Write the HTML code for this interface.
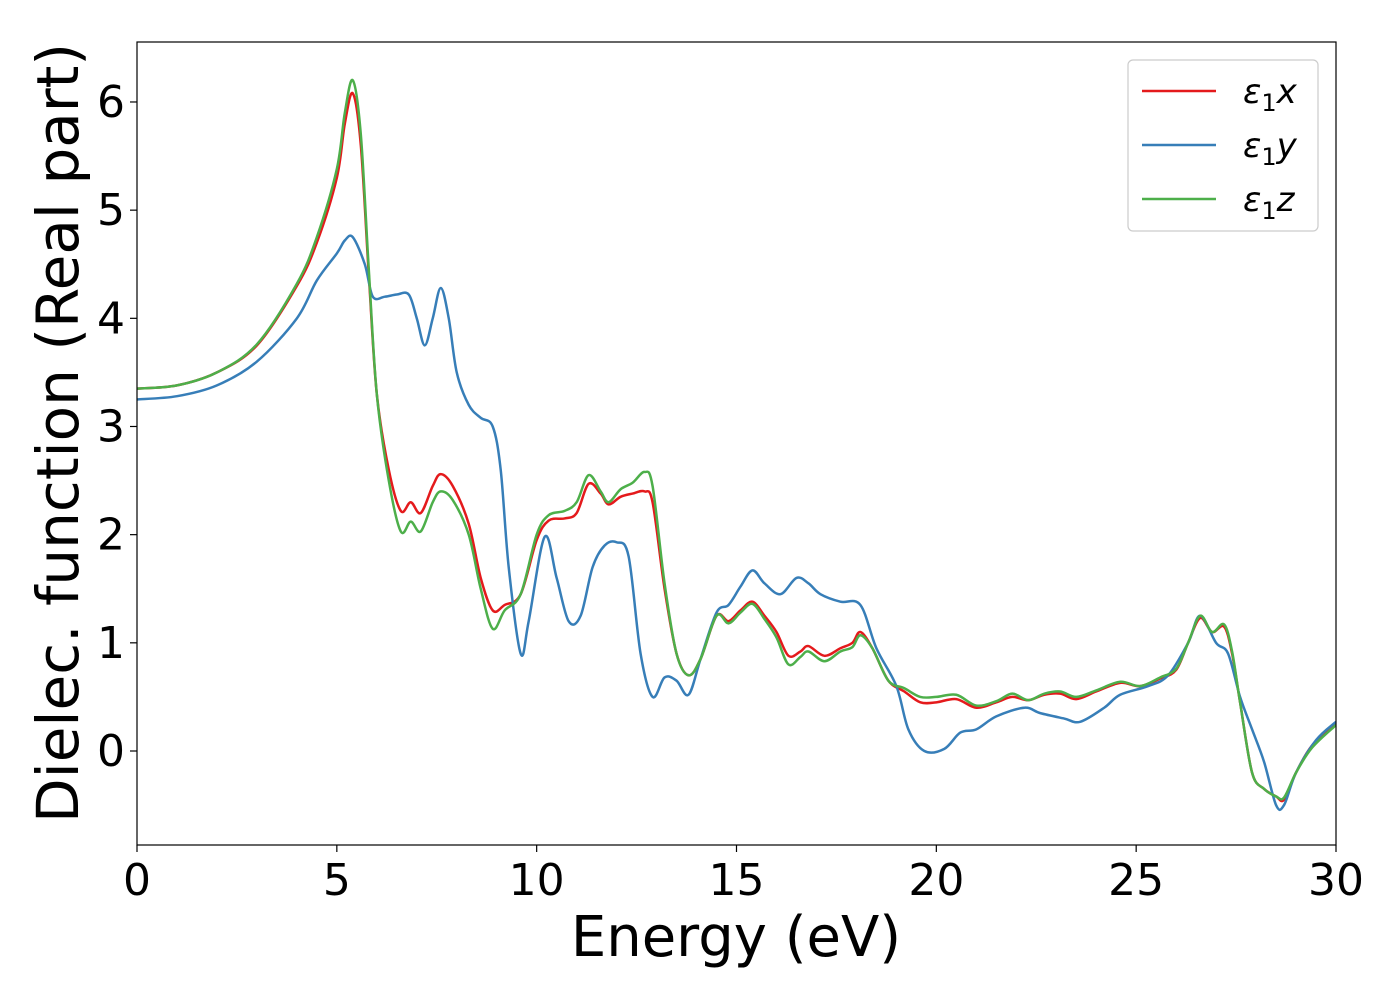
<!DOCTYPE html>
<html><head><meta charset="utf-8"><style>
body{margin:0;background:#fff}
svg{font-family:"DejaVu Sans","Liberation Sans",sans-serif}
</style></head><body>
<svg id="chart" width="1400" height="1000"></svg>
<script>
const xTicks=[0,5,10,15,20,25,30];
const yTicks=[0,1,2,3,4,5,6];
const eX=[0,1,2,3,4,4.5,5,5.2,5.4,5.6,5.8,6.0,6.3,6.6,6.85,7.1,7.4,7.6,7.9,8.3,8.6,8.9,9.2,9.6,10.0,10.3,10.7,11.0,11.3,11.6,11.8,12.1,12.4,12.7,12.9,13.2,13.5,13.8,14.1,14.5,14.8,15.1,15.4,15.7,16.0,16.3,16.6,16.8,17.2,17.6,17.9,18.1,18.4,18.8,19.2,19.6,20.0,20.5,21.0,21.5,21.9,22.3,22.7,23.1,23.5,24.0,24.6,25.1,25.6,26.0,26.3,26.6,26.9,27.2,27.4,27.6,27.9,28.2,28.5,28.7,29.0,29.4,30];
const epsX=[3.35,3.38,3.5,3.75,4.3,4.7,5.3,5.8,6.08,5.6,4.4,3.3,2.6,2.22,2.3,2.2,2.45,2.56,2.45,2.1,1.6,1.3,1.35,1.45,1.95,2.13,2.15,2.2,2.47,2.38,2.28,2.35,2.38,2.4,2.3,1.5,0.9,0.7,0.85,1.25,1.2,1.3,1.38,1.25,1.1,0.88,0.92,0.97,0.88,0.95,1.0,1.1,0.95,0.65,0.55,0.45,0.45,0.48,0.4,0.45,0.5,0.47,0.52,0.53,0.48,0.55,0.63,0.6,0.67,0.75,1.0,1.23,1.1,1.15,0.9,0.45,-0.2,-0.35,-0.42,-0.45,-0.2,0.05,0.25];
const epsZ=[3.35,3.38,3.5,3.76,4.32,4.75,5.38,5.9,6.2,5.7,4.45,3.3,2.5,2.03,2.12,2.03,2.3,2.4,2.32,2.0,1.5,1.13,1.3,1.45,2.0,2.18,2.22,2.3,2.55,2.4,2.3,2.42,2.48,2.58,2.45,1.55,0.9,0.7,0.85,1.25,1.18,1.28,1.36,1.22,1.05,0.8,0.87,0.92,0.83,0.92,0.96,1.07,0.95,0.65,0.58,0.5,0.5,0.52,0.42,0.46,0.53,0.47,0.53,0.55,0.5,0.56,0.64,0.6,0.68,0.76,1.0,1.25,1.1,1.17,0.92,0.45,-0.2,-0.35,-0.42,-0.43,-0.2,0.03,0.24];
const eY=[0,1,2,3,4,4.5,5.0,5.2,5.4,5.7,5.9,6.2,6.5,6.8,7.0,7.2,7.4,7.6,7.8,8.0,8.3,8.6,8.9,9.1,9.3,9.6,9.8,10.2,10.5,10.8,11.1,11.4,11.7,12.0,12.3,12.6,12.9,13.2,13.5,13.8,14.1,14.5,14.8,15.1,15.4,15.7,16.1,16.5,16.8,17.1,17.6,18.1,18.5,19.0,19.3,19.7,20.2,20.6,21.0,21.5,22.2,22.6,23.2,23.6,24.2,24.6,25.3,25.8,26.3,26.6,27.0,27.3,27.6,27.9,28.2,28.5,28.7,29.0,29.5,30];
const epsY=[3.25,3.28,3.38,3.6,4.0,4.35,4.6,4.72,4.75,4.5,4.2,4.2,4.22,4.22,4.0,3.75,4.0,4.28,4.0,3.5,3.2,3.08,3.0,2.6,1.7,0.9,1.2,1.98,1.6,1.2,1.25,1.7,1.9,1.93,1.8,0.9,0.5,0.68,0.65,0.52,0.85,1.28,1.35,1.52,1.67,1.55,1.45,1.6,1.55,1.45,1.38,1.35,0.95,0.6,0.2,0.0,0.02,0.17,0.2,0.32,0.4,0.35,0.3,0.27,0.4,0.52,0.6,0.7,1.0,1.25,1.0,0.9,0.5,0.2,-0.1,-0.5,-0.5,-0.2,0.1,0.27];

const L=137,R=1336,T=42,B=845;
const xs=v=>L+(v/30)*(R-L);
const ys=v=>751-v*108.17;
const NS="http://www.w3.org/2000/svg";
const svg=document.getElementById('chart');
function mk(t,a,p){const e=document.createElementNS(NS,t);for(const k in a)e.setAttribute(k,a[k]);(p||svg).appendChild(e);return e;}
function path(xa,va){
  const p=xa.map((x,i)=>[xs(x),ys(va[i])]);
  let d=`M${p[0][0]},${p[0][1]}`;
  for(let i=0;i<p.length-1;i++){
    const p0=p[Math.max(0,i-1)],p1=p[i],p2=p[i+1],p3=p[Math.min(p.length-1,i+2)];
    const c1=[p1[0]+(p2[0]-p0[0])/6,p1[1]+(p2[1]-p0[1])/6];
    const c2=[p2[0]-(p3[0]-p1[0])/6,p2[1]-(p3[1]-p1[1])/6];
    d+=`C${c1[0]},${c1[1]} ${c2[0]},${c2[1]} ${p2[0]},${p2[1]}`;
  }
  return d;
}
const series=[[eX,epsX,'#e41a1c','series-eps1-x'],[eY,epsY,'#377eb8','series-eps1-y'],[eX,epsZ,'#4daf4a','series-eps1-z']];
const clip=mk('clipPath',{id:'c'});mk('rect',{x:L,y:T,width:R-L,height:B-T},clip);
series.forEach(s=>{
  const e=mk('path',{d:path(s[0],s[1]),fill:'none',stroke:s[2],'stroke-width':2.5,'clip-path':'url(#c)'});
  
  
});
const fr=mk('rect',{x:L,y:T,width:R-L,height:B-T,fill:'none',stroke:'#000','stroke-width':1.2});

xTicks.forEach(t=>{
  mk('line',{x1:xs(t),x2:xs(t),y1:B,y2:B+7,stroke:'#000','stroke-width':1.2});
  const e=mk('text',{x:xs(t),y:B+50,'font-size':44,'text-anchor':'middle'});e.textContent=t;
  
});
yTicks.forEach(t=>{
  mk('line',{x1:L-7,x2:L,y1:ys(t),y2:ys(t),stroke:'#000','stroke-width':1.2});
  const e=mk('text',{x:L-12,y:ys(t)+15,'font-size':44,'text-anchor':'end'});e.textContent=t;
  
});
let e=mk('text',{x:736,y:956,'font-size':56,'text-anchor':'middle'});e.textContent='Energy (eV)';

e=mk('text',{x:0,y:0,'font-size':58,'text-anchor':'middle',transform:'translate(78,433) rotate(-90)'});e.textContent='Dielec. function (Real part)';

const lg=mk('g',{});
mk('rect',{x:1128,y:60,width:190,height:171,rx:5,fill:'#fff',stroke:'#ccc','stroke-width':1.2},lg);
['x','y','z'].forEach((n,i)=>{
  const y=91+i*54;
  mk('line',{x1:1142,x2:1216,y1:y,y2:y,stroke:series[i][2],'stroke-width':2.5},lg);
  const t=mk('text',{x:1243,y:y+12,'font-size':34,'font-style':'oblique'},lg);
  t.innerHTML='ε<tspan font-size="24" dy="8" font-style="normal">1</tspan><tspan dy="-8">'+n+'</tspan>';
  
});
</script>
</body></html>
